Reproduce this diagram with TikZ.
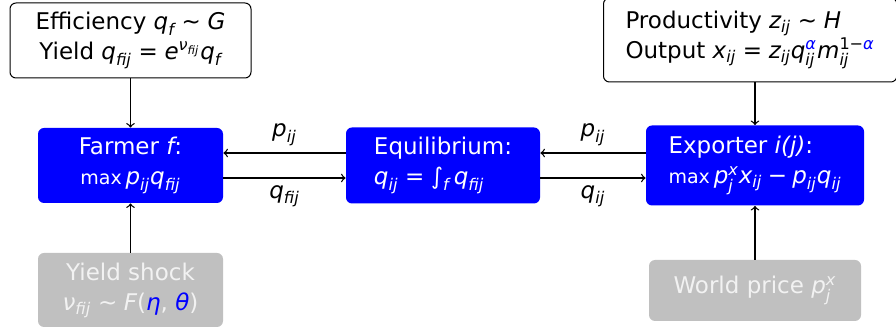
\documentclass[tikz,border=0pt]{standalone}
\usepackage{amsmath}
\usepackage{fontspec}
\setmainfont{DejaVu Sans}
\definecolor{shockgray}{RGB}{192,192,192}
\definecolor{shocktext}{RGB}{242,242,242}
\newcommand{\mv}[1]{\text{\itshape #1}}
\newcommand{\teq}{\mathrel{\text{=}}}
\newcommand{\tsim}{\mathrel{\text{∼}}}
\newcommand{\tminus}{\mathbin{\text{−}}}
\newcommand{\smax}{{\fontsize{9.5}{11}\selectfont max}\,}
\begin{document}
\begin{tikzpicture}[x=0.5pt,y=-0.5pt,
  every node/.style={font=\fontsize{11.5}{15}\selectfont},
  whitebox/.style={draw=black, line width=0.5pt, rounded corners=3pt, fill=white, inner sep=0pt},
  bluebox/.style={fill=blue, text=white, rounded corners=3pt, inner sep=0pt},
  graybox/.style={fill=shockgray, text=shocktext, rounded corners=3pt, inner sep=0pt},
  conn/.style={->, line width=0.65pt}
]
\useasboundingbox (0,0) rectangle (896,331);
\clip (0,0) rectangle (896,331);

\node[whitebox, align=center, minimum width=120.5pt, minimum height=37.5pt] (eff) at (130.5,40.5)
  {Efficiency $\mv{q}_{\mv{f}} \tsim \mv{G}$\\ Yield $\mv{q}_{\mv{fij}} \teq \mv{e}^{\mv{ν}_{\mv{fij}}}\mv{q}_{\mv{f}}$};

\node[whitebox, align=left, anchor=west, inner xsep=11pt, minimum height=42pt] (prod) at (603,40)
  {Productivity $\mv{z}_{\mv{ij}} \tsim \mv{H}$\\ Output $\mv{x}_{\mv{ij}} \teq \mv{z}_{\mv{ij}}\mv{q}_{\mv{ij}}^{{\color{blue}\mv{α}}}\mv{m}_{\mv{ij}}^{\text{1}\tminus{\color{blue}\mv{α}}}$};

\node[bluebox, align=center, minimum width=92.5pt, minimum height=37.5pt] (farmer) at (130.5,165.5)
  {Farmer $\mv{f}$:\\ \smax$\mv{p}_{\mv{ij}}\mv{q}_{\mv{fij}}$};

\node[bluebox, align=left, minimum width=97pt, minimum height=38pt] (eq) at (443,165.5)
  {Equilibrium:\\ $\mv{q}_{\mv{ij}} \teq \mathop{\text{∫}}\nolimits_{\mv{f}} \mv{q}_{\mv{fij}}$};

\node[bluebox, align=left, minimum width=109pt, minimum height=40pt] (exp) at (755,165.5)
  {Exporter $\mv{i(j)}$:\\ \smax$\mv{p}^{\mv{x}}_{\mv{j}}\mv{x}_{\mv{ij}} \tminus \mv{p}_{\mv{ij}}\mv{q}_{\mv{ij}}$};

\node[graybox, align=center, minimum width=92.5pt, minimum height=37pt] (shock) at (130.5,290)
  {Yield shock\\ $\mv{ν}_{\mv{fij}} \tsim \mv{F}\text{(}{\color{blue}\mv{η}}\text{, }{\color{blue}\mv{θ}}\text{)}$};

\node[graybox, minimum width=106pt, minimum height=30.5pt] (world) at (755,290.5)
  {World price $\mv{p}^{\mv{x}}_{\mv{j}}$};

\draw[conn] (eff) -- (farmer);
\draw[conn] (prod.south -| exp.north) -- (exp.north);
\draw[conn] (shock) -- (farmer);
\draw[conn] (world) -- (exp);

\draw[conn] ([yshift=6.25pt]eq.west) -- ([yshift=6.25pt]farmer.east)
  node[midway, above] {$\mv{p}_{\mv{ij}}$};
\draw[conn] ([yshift=-6.25pt]farmer.east) -- ([yshift=-6.25pt]eq.west)
  node[midway, below] {$\mv{q}_{\mv{fij}}$};
\draw[conn] ([yshift=6.25pt]exp.west) -- ([yshift=6.25pt]eq.east)
  node[midway, above] {$\mv{p}_{\mv{ij}}$};
\draw[conn] ([yshift=-6.25pt]eq.east) -- ([yshift=-6.25pt]exp.west)
  node[midway, below] {$\mv{q}_{\mv{ij}}$};
\end{tikzpicture}
\end{document}
